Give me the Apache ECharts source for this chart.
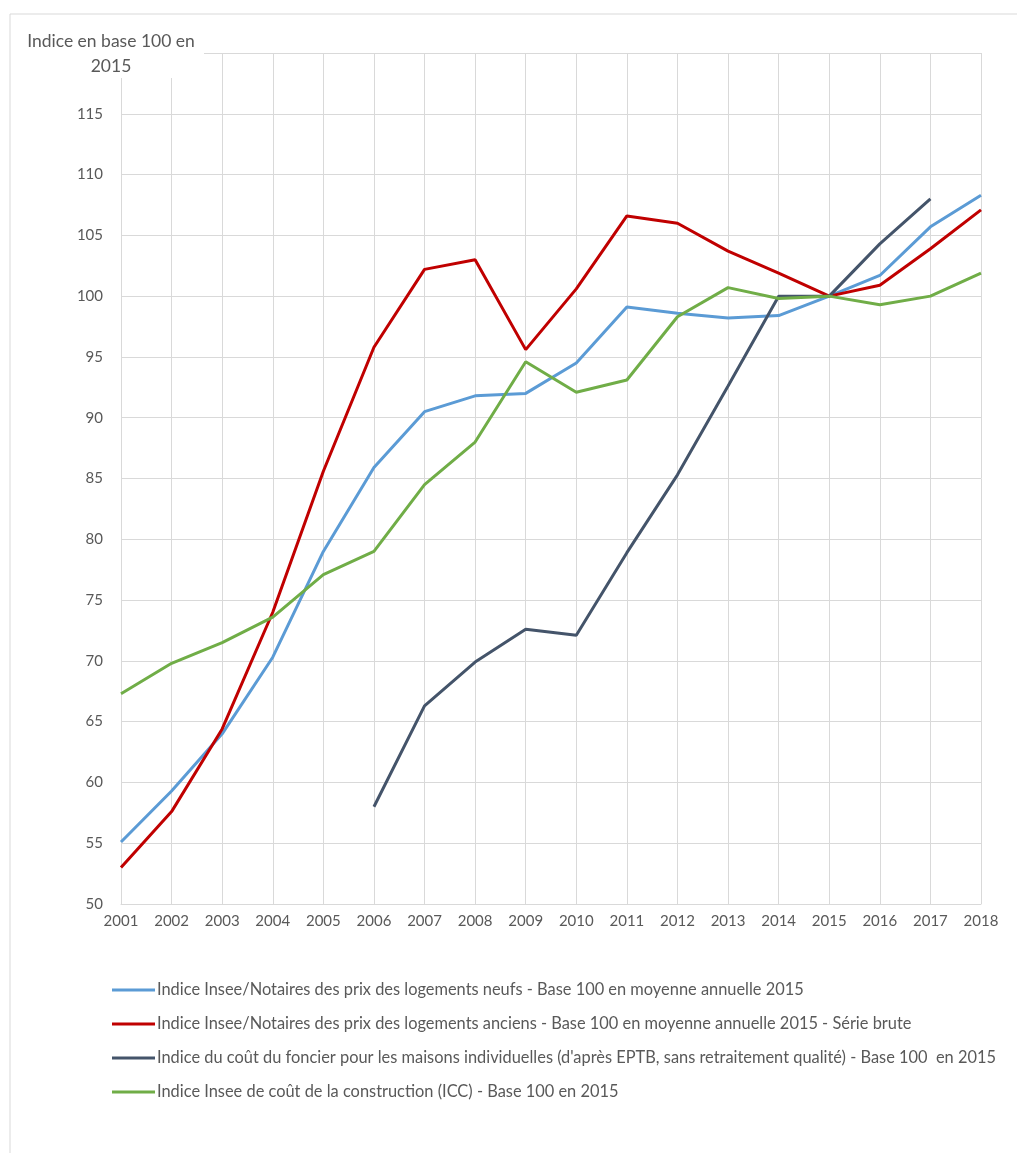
<!DOCTYPE html>
<html><head><meta charset="utf-8">
<script src="https://cdn.jsdelivr.net/npm/echarts@6/dist/echarts.min.js"></script>
<style>html,body{margin:0;padding:0;background:#fff}#c{width:1017px;height:1153px}</style>
</head><body><div id="c"></div>
<script>
const years = ['2001','2002','2003','2004','2005','2006','2007','2008','2009','2010','2011','2012','2013','2014','2015','2016','2017','2018'];
const neufs = [55.1, 59.3, 64.0, 70.3, 79.0, 85.9, 90.5, 91.8, 92.0, 94.5, 99.1, 98.6, 98.2, 98.4, 100, 101.7, 105.7, 108.3];
const anciens = [53.0, 57.6, 64.4, 74.0, 85.6, 95.8, 102.2, 103.0, 95.6, 100.6, 106.6, 106.0, 103.7, 101.9, 100, 100.9, 103.9, 107.1];
const foncier = [null, null, null, null, null, 58.0, 66.3, 69.9, 72.6, 72.1, 78.9, 85.3, 92.6, 100.0, 100, 104.3, 108.0, null];
const icc = [67.3, 69.8, 71.5, 73.6, 77.1, 79.0, 84.5, 88.0, 94.6, 92.1, 93.1, 98.3, 100.7, 99.8, 100, 99.3, 100.0, 101.9];
const names = [
  'Indice Insee/Notaires des prix des logements neufs - Base 100 en moyenne annuelle 2015',
  'Indice Insee/Notaires des prix des logements anciens - Base 100 en moyenne annuelle 2015 - Série brute',
  "Indice du coût du foncier pour les maisons individuelles (d'après EPTB, sans retraitement qualité) - Base 100  en 2015",
  'Indice Insee de coût de la construction (ICC) - Base 100 en 2015'
];
const colors = ['#5b9bd5', '#c00000', '#44546a', '#70ad47'];
const yTitle = 'Indice en base 100 en\n2015';

const FONT = 'Lato';
const chart = echarts.init(document.getElementById('c'), null, {renderer: 'canvas'});
const dataSets = [neufs, anciens, foncier, icc];
chart.setOption({
  animation: false,
  color: colors,
  textStyle: {fontFamily: FONT},
  grid: {left: 121, right: 36, top: 53, bottom: 249, containLabel: false},
  xAxis: {
    type: 'category', data: years, boundaryGap: false,
    axisLine: {lineStyle: {color: '#d9d9d9', width: 1}},
    axisTick: {show: false},
    axisLabel: {color: '#595959', fontSize: 15, fontFamily: FONT, margin: 10},
    splitLine: {show: true, lineStyle: {color: '#d9d9d9', width: 1}}
  },
  yAxis: {
    type: 'value', min: 50, max: 120, interval: 5,
    axisLine: {show: false}, axisTick: {show: false},
    axisLabel: {color: '#595959', fontSize: 15, fontFamily: FONT, margin: 18,
      formatter: v => v >= 120 ? '' : String(v)},
    splitLine: {lineStyle: {color: '#d9d9d9', width: 1}}
  },
  legend: {
    orient: 'vertical', left: 107, top: 975, icon: 'rect',
    itemWidth: 43, itemHeight: 3, itemGap: 14,
    textStyle: {color: '#595959', fontSize: 16.4, fontFamily: FONT, lineHeight: 20, padding: [0,0,0,-3]},
    data: names
  },
  series: dataSets.map((d, i) => ({
    name: names[i], type: 'line', data: d, symbol: 'none',
    lineStyle: {width: 3, color: colors[i]}, connectNulls: false
  })),
  graphic: [
    {type: 'rect', shape: {x: 10, y: 14, width: 1040, height: 1200}, style: {fill: 'none', stroke: '#d9d9d9', lineWidth: 1}, silent: true, z: 0},
    {type: 'rect', shape: {x: 18, y: 28, width: 186, height: 50}, style: {fill: '#fff'}, z: 100},
    {type: 'text', x: 111, y: 29, z: 101, style: {text: yTitle, fill: '#595959', font: '17.5px ' + FONT, textAlign: 'center', lineHeight: 25}}
  ]
});
</script></body></html>
